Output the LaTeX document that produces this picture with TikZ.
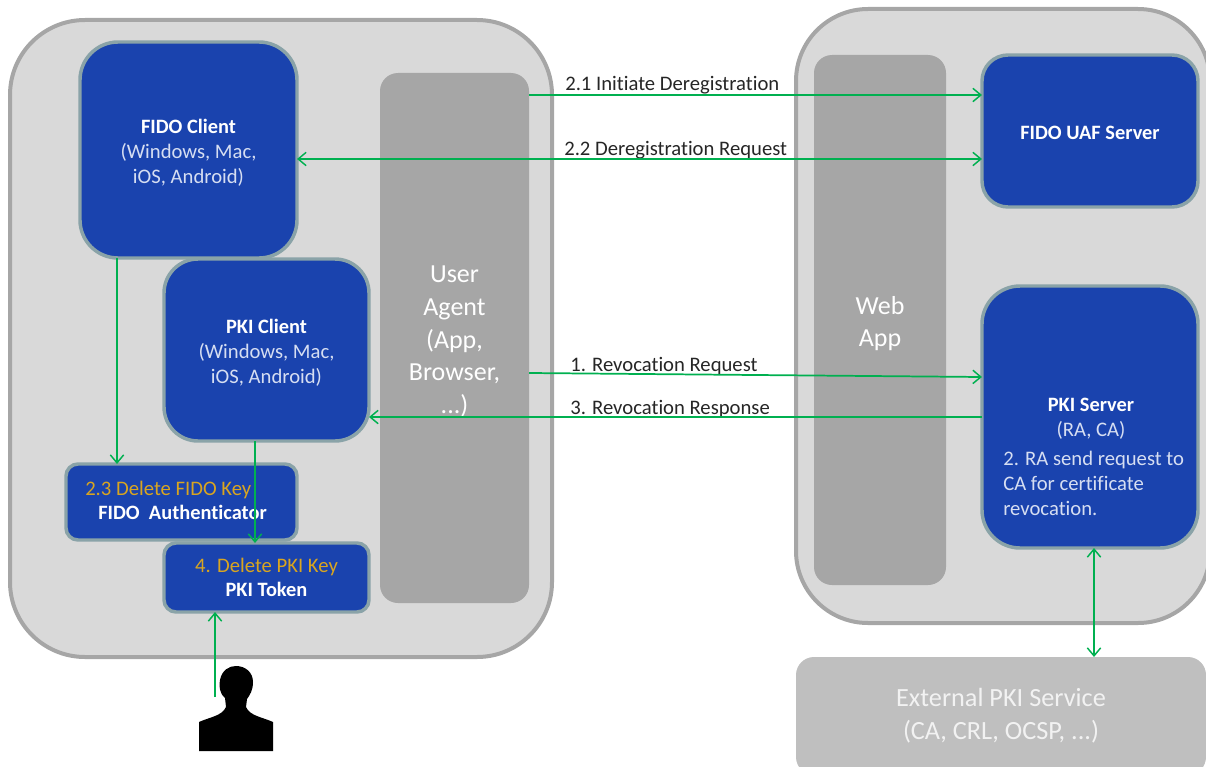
\documentclass[tikz,border=0pt]{standalone}
\usepackage{fontspec}
\setmainfont[Ligatures=NoCommon]{Carlito}
\usepackage{xcolor}
\usetikzlibrary{arrows.meta}
\definecolor{devicegray}{HTML}{D9D9D9}
\definecolor{deviceline}{HTML}{A6A6A6}
\definecolor{agentgray}{HTML}{A6A6A6}
\definecolor{servicegray}{HTML}{BFBFBF}
\definecolor{fidoblue}{HTML}{1A43AE}
\definecolor{fidoline}{HTML}{8AA3A8}
\definecolor{linkgreen}{HTML}{00B050}
\definecolor{keyorange}{HTML}{D9A520}
\definecolor{sublabel}{HTML}{D6DEF2}
\tikzset{
 box/.style n args={5}{anchor=north west, inner sep=0pt, outer sep=0pt, minimum width=#3*0.75pt-#1*0.75pt, minimum height=#4*0.75pt-#2*0.75pt, rounded corners=#5*0.75pt},
 device/.style={draw=deviceline, fill=devicegray, line width=3pt},
 agent/.style={fill=agentgray, text=white, font=\fontsize{19.5}{24.5}\selectfont, align=center},
 service/.style={fill=servicegray, text=white!90!gray, font=\fontsize{19.7}{24.5}\selectfont, align=center},
 comp/.style={draw=fidoline, fill=fidoblue, line width=2.6pt, text=white, align=center, font=\fontsize{15.3}{18.5}\selectfont\bfseries},
 msg/.style={anchor=base west, inner sep=0pt, text=black!85, font=\fontsize{15.5}{17}\selectfont},
 link/.style={draw=linkgreen, line width=1.3pt, -{Straight Barb[length=6pt,width=10pt,line width=1.1pt]}},
 biglink/.style={link, {Straight Barb[length=6pt,width=10pt,line width=1.1pt]}-{Straight Barb[length=6pt,width=10pt,line width=1.1pt]}},
}
\newcommand{\sub}[1]{{\color{sublabel}\fontsize{15.5}{18.5}\selectfont\mdseries #1}}
\newcommand{\key}[1]{{\color{keyorange}\fontsize{15.5}{18.5}\selectfont\mdseries #1}}
\newcommand{\drop}[1]{\rule{0pt}{#1}}
\begin{document}
\begin{tikzpicture}[x=0.75pt,y=-0.75pt]
\clip (0,0) rectangle (1206,767);
\node[device, box={10}{20}{552}{657}{75}] (client) at (10,20) {};
\node[device, box={796}{9}{1210}{623}{72}] (server) at (796,9) {};
\node[agent, box={380}{73}{529}{603}{18}] (agent) at (380,73) {\drop{18pt}User\\Agent\\(App,\\Browser,\\...)};
\node[agent, box={814}{55}{946}{585}{18}] (webapp) at (814,55) {\drop{19pt}Web\\App};
\node[service, box={796}{657}{1206}{775}{18}] (external) at (796,657) {External PKI Service\\(CA, CRL, OCSP, ...)};
\node[comp, box={80}{42}{297}{258}{38}] (fidoclient) at (80,42) {\drop{15pt}FIDO Client\\\sub{(Windows, Mac,}\\\sub{iOS, Android)}};
\node[comp, box={164}{259}{369}{441}{34}] (pkiclient) at (164,259) {\drop{15pt}PKI Client\\\sub{(Windows, Mac,}\\\sub{iOS, Android)}};
\node[comp, box={66}{464}{297}{540}{12}] (fidoauth) at (66,464) {};
\node[comp, box={164}{543}{369}{612}{12}] (pkitoken) at (164,543) {\key{4. Delete PKI Key}\\PKI Token};
\node[comp, box={982}{55}{1198}{207}{26}] (uafserver) at (982,55) {\drop{13pt}FIDO UAF Server};
\node[comp, box={982}{286}{1198}{548}{38}] (pkiserver) at (982,286) {};
\node[text=keyorange, font=\fontsize{15.5}{17}\selectfont, anchor=base west, inner sep=0pt] (fidokey) at (85,495) {2.3 Delete FIDO Key};
\node[text=white, font=\fontsize{15.3}{17}\selectfont\bfseries, anchor=base west, inner sep=0pt] (fidolabel) at (98,519) {FIDO~ Authenticator};
\node[text=white, font=\fontsize{15.3}{18.5}\selectfont\bfseries, align=center, inner sep=0pt] (pkititle) at (1091,419) {PKI Server\\\sub{(RA, CA)}};
\node[text=sublabel, font=\fontsize{15.5}{18.7}\selectfont, align=left, anchor=north west, inner sep=0pt] (pkinote) at (1003,451) {2. RA send request to\\CA for certificate\\revocation.};
\node[msg] (initiate) at (565,90) {2.1 Initiate Deregistration};
\node[msg] (deregreq) at (564,155) {2.2 Deregistration Request};
\node[msg] (revreq) at (570,371) {1. Revocation Request};
\node[msg] (revresp) at (570,414) {3. Revocation Response};
\fill[black] (199,751) -- (199,722) .. controls (210,717) and (222,716) .. (226,707) -- (225,698) .. controls (219,693) and (219,685) .. (220,680) .. controls (222,670) and (229,666) .. (236,666) .. controls (245,666) and (253,672) .. (253,682) .. controls (253,690) and (250,695) .. (247,699) -- (246,707) .. controls (250,716) and (262,717) .. (273,722) -- (273,751) -- cycle;
\coordinate (user) at (215,697);
\draw[link] (agent.east |- 0,95) -- (uafserver.west |- 0,95);
\draw[biglink] (fidoclient.east |- 0,159) -- (uafserver.west |- 0,159);
\draw[link] (agent.east |- 0,373) -- (pkiserver.west |- 0,377);
\draw[link] (pkiserver.west |- 0,417) -- (pkiclient.east |- 0,417);
\draw[link] (fidoclient.south -| 117,0) -- (fidoauth.north -| 117,0);
\draw[link] (pkiclient.south -| 255,0) -- (pkitoken.north -| 255,0);
\draw[link] (user) -- (pkitoken.south -| user);
\draw[biglink] (pkiserver.south -| 1094,0) -- (external.north -| 1094,0);
\end{tikzpicture}
\end{document}
